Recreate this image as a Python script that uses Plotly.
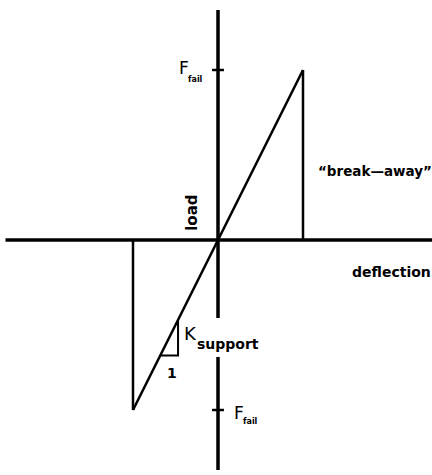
import plotly.graph_objects as go

# load / deflection diagram, normalised: F_fail = 1, break-away deflection = 1
k_support = 1.0
f_fail = 1.0
d_break = f_fail / k_support

# elastic branch and the break-away drops
branch_x = [-d_break, 0, d_break]
branch_y = [-f_fail, 0, f_fail]
drop_pos_x = [d_break, d_break]
drop_pos_y = [f_fail, 0]
drop_neg_x = [-d_break, -d_break]
drop_neg_y = [-f_fail, 0]

# slope triangle on the lower branch
tri_x = [-0.47, -0.47, -0.68]
tri_y = [-0.47, -0.68, -0.68]

# axis extents (vertical axis broken round the K label)
x_axis_x = [-2.5, 2.52]
y_axis_top = [1.353, -0.459]
y_axis_bot = [-0.688, -1.353]

ink = '#000000'
fnt = 'DejaVu Sans'

fig = go.Figure()

fig.add_trace(go.Scatter(x=x_axis_x, y=[0, 0], mode='lines',
                         line=dict(color=ink, width=3.5)))
fig.add_trace(go.Scatter(x=[0, 0], y=y_axis_top, mode='lines',
                         line=dict(color=ink, width=3.5)))
fig.add_trace(go.Scatter(x=[0, 0], y=y_axis_bot, mode='lines',
                         line=dict(color=ink, width=3.5)))

# ticks at +/- F_fail
for fy in [f_fail, -f_fail]:
    fig.add_trace(go.Scatter(x=[-0.07, 0.07], y=[fy, fy], mode='lines',
                             line=dict(color=ink, width=2.5)))

fig.add_trace(go.Scatter(x=branch_x, y=branch_y, mode='lines',
                         line=dict(color=ink, width=2.5)))
fig.add_trace(go.Scatter(x=drop_pos_x, y=drop_pos_y, mode='lines',
                         line=dict(color=ink, width=2.5)))
fig.add_trace(go.Scatter(x=drop_neg_x, y=drop_neg_y, mode='lines',
                         line=dict(color=ink, width=2.5)))
fig.add_trace(go.Scatter(x=tri_x, y=tri_y, mode='lines',
                         line=dict(color=ink, width=2)))

ann = [
    # F_fail upper
    dict(x=-0.48, y=f_fail + 0.01, text='F', xanchor='left', yanchor='middle',
         font=dict(size=17, family=fnt)),
    dict(x=-0.26, y=f_fail - 0.055, text='<b>fail</b>', xanchor='center', yanchor='middle',
         font=dict(size=8, family=fnt)),
    # F_fail lower
    dict(x=0.17, y=-f_fail - 0.02, text='F', xanchor='left', yanchor='middle',
         font=dict(size=17, family=fnt)),
    dict(x=0.38, y=-f_fail - 0.065, text='<b>fail</b>', xanchor='center', yanchor='middle',
         font=dict(size=8, family=fnt)),
    # K_support
    dict(x=-0.42, y=-0.55, text='K', xanchor='left', yanchor='middle',
         font=dict(size=18, family=fnt)),
    dict(x=-0.27, y=-0.61, text='<b>support</b>', xanchor='left', yanchor='middle',
         font=dict(size=14, family=fnt)),
    dict(x=-0.54, y=-0.78, text='<b>1</b>', xanchor='center', yanchor='middle',
         font=dict(size=14, family=fnt)),
    # axis labels
    dict(x=-0.306, y=0.16, text='<b>load</b>', textangle=-90,
         xanchor='center', yanchor='middle', font=dict(size=15, family=fnt)),
    dict(x=1.15, y=0.405, text='<b>\u201cbreak\u2014away\u201d</b>', xanchor='left',
         yanchor='middle', font=dict(size=13.5, family=fnt)),
    dict(x=1.55, y=-0.19, text='<b>deflection</b>', xanchor='left',
         yanchor='middle', font=dict(size=14, family=fnt)),
]
for a in ann:
    a.update(showarrow=False, xref='x', yref='y')
    a['font']['color'] = ink

fig.update_layout(
    width=432, height=475, autosize=False,
    margin=dict(l=0, r=0, t=0, b=0),
    paper_bgcolor='white', plot_bgcolor='white',
    showlegend=False,
    annotations=ann,
    xaxis=dict(range=[-218 / 85, 214 / 85], visible=False, fixedrange=True),
    yaxis=dict(range=[-235 / 170, 240 / 170], visible=False, fixedrange=True),
)

# page has a default body margin; drop it so the figure fills the window
fig.write_html('out.html', config={'displayModeBar': False},
               post_script="document.body.style.margin='0';"
                           "document.body.style.overflow='hidden';")
